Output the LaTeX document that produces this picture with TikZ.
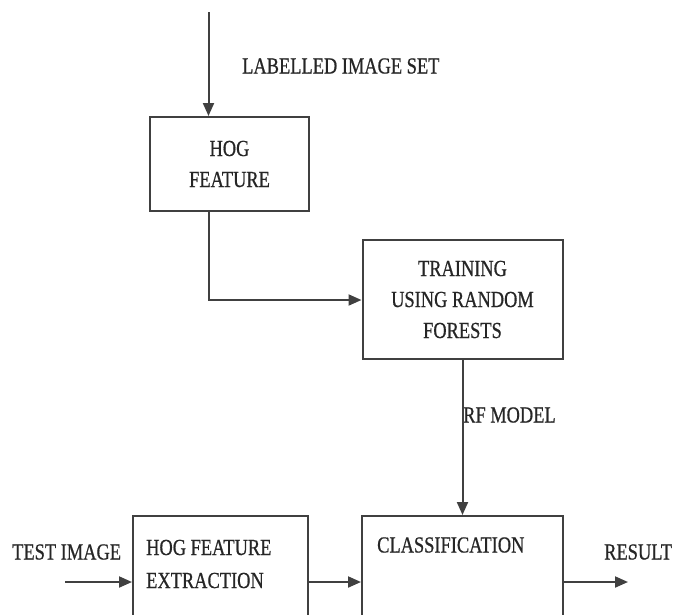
\documentclass[tikz,border=0pt]{standalone}
\usepackage{fontspec}
\setmainfont{Liberation Serif}[FakeStretch=0.8,FakeBold=0.6]
\usetikzlibrary{arrows.meta}
\begin{document}
\begin{tikzpicture}[x=1pt,y=-1pt,
  box/.style={draw=black!75,line width=2pt,rectangle,inner sep=0pt},
  lbl/.style={inner sep=0pt,font=\fontsize{23}{31}\selectfont,text=black!85},
  conn/.style={draw=black!75,line width=2pt,-{Triangle[length=13pt,width=11pt]}}]
\useasboundingbox (0,0) rectangle (678,614);
\clip (0,0) rectangle (678,614);
\fill[white] (0,0) rectangle (678,614);
% boxes
\node[box,minimum width=159pt,minimum height=94pt,align=center,lbl] (hog) at (229.5,164) {HOG\\FEATURE};
\node[box,minimum width=200pt,minimum height=119pt,align=center,lbl] (train) at (462.5,299.5) {TRAINING\\USING RANDOM\\FORESTS};
\node[box,minimum width=175pt,minimum height=130pt] (ext) at (220.5,581) {};
\node[box,minimum width=201pt,minimum height=130pt] (cls) at (462.5,581) {};
\node[lbl,anchor=west,align=left,font=\fontsize{23}{33}\selectfont] (extt) at (146,564) {HOG FEATURE\\EXTRACTION};
\node[lbl,anchor=west] (clst) at (377,545) {CLASSIFICATION};
% labels
\node[lbl,anchor=west] (lis) at (242,66) {LABELLED IMAGE SET};
\node[lbl,anchor=west] (rfm) at (463,415) {RF MODEL};
\node[lbl,anchor=west] (test) at (12,552) {TEST IMAGE};
\node[lbl,anchor=west] (res) at (604,552) {RESULT};
% coordinates
\coordinate (top) at (208.5,12);
\coordinate (bend) at (208.5,300);
\coordinate (tin) at (65,582);
\coordinate (rout) at (628,582);
% connectors
\draw[conn] (top) -- (top |- hog.north);
\draw[conn] (hog.south -| top) -- (bend) -- (bend -| train.west);
\draw[conn] (train.south) -- (cls.north);
\draw[conn] (tin) -- (tin -| ext.west);
\draw[conn] (ext.east |- tin) -- (cls.west |- tin);
\draw[conn] (cls.east |- rout) -- (rout);
\end{tikzpicture}
\end{document}
